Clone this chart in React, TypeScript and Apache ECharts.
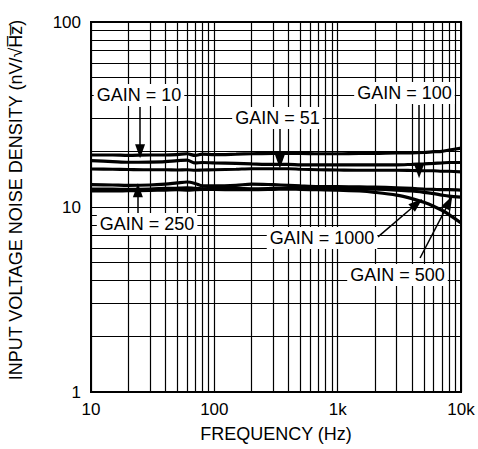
import React, { useEffect, useRef } from 'react';
import * as echarts from 'echarts';

const FREQ = [10, 15, 20, 30, 40, 50, 60, 70, 80, 100, 150, 200, 300, 400, 500, 700, 1000, 1500, 2000, 3000, 4000, 5000, 6000, 7000, 8000, 10000];

const GAIN_10 = [19.1, 19.1, 19.0, 19.1, 19.1, 19.2, 19.4, 19.0, 19.3, 19.2, 19.3, 19.4, 19.5, 19.5, 19.5, 19.4, 19.4, 19.5, 19.5, 19.6, 19.6, 19.7, 19.9, 20.0, 20.3, 20.8];
const GAIN_51 = [17.8, 17.6, 17.45, 17.5, 17.6, 17.8, 17.9, 17.3, 17.4, 17.3, 17.2, 17.1, 17.0, 17.0, 16.9, 16.9, 16.9, 16.9, 16.9, 16.9, 17.0, 17.1, 17.2, 17.3, 17.4, 17.4];
const GAIN_100 = [16.05, 16.0, 15.95, 15.9, 15.9, 15.85, 15.9, 15.8, 15.85, 15.9, 16.0, 16.1, 16.1, 16.1, 16.0, 15.9, 15.85, 15.8, 15.8, 15.8, 15.75, 15.7, 15.7, 15.6, 15.6, 15.5];
const GAIN_250 = [13.2, 13.15, 13.1, 13.15, 13.3, 13.5, 13.65, 13.4, 13.0, 13.0, 13.1, 13.3, 13.2, 13.1, 13.0, 12.9, 12.9, 12.85, 12.8, 12.7, 12.6, 12.5, 12.45, 12.4, 12.4, 12.35];
const GAIN_500 = [12.5, 12.5, 12.45, 12.5, 12.6, 12.65, 12.7, 12.6, 12.55, 12.6, 12.6, 12.55, 12.6, 12.65, 12.6, 12.55, 12.5, 12.55, 12.5, 12.35, 12.2, 12.0, 11.8, 11.6, 11.45, 11.3];
const GAIN_1000 = [12.2, 12.2, 12.25, 12.3, 12.35, 12.4, 12.35, 12.4, 12.45, 12.45, 12.4, 12.4, 12.45, 12.5, 12.45, 12.4, 12.35, 12.2, 12.0, 11.6, 11.1, 10.6, 10.1, 9.6, 9.1, 8.2];

const SERIES = [
  { name: 'GAIN = 10', values: GAIN_10 },
  { name: 'GAIN = 51', values: GAIN_51 },
  { name: 'GAIN = 100', values: GAIN_100 },
  { name: 'GAIN = 250', values: GAIN_250 },
  { name: 'GAIN = 500', values: GAIN_500 },
  { name: 'GAIN = 1000', values: GAIN_1000 },
];

const X_MINOR = [20, 30, 40, 50, 60, 70, 80, 90, 200, 300, 400, 500, 600, 700, 800, 900, 2000, 3000, 4000, 5000, 6000, 7000, 8000, 9000];
const Y_MINOR = [2, 3, 4, 5, 6, 7, 8, 9, 20, 30, 40, 50, 60, 70, 80, 90];

const X_TICK_LABELS: Record<number, string> = { 10: '10', 100: '100', 1000: '1k', 10000: '10k' };

const X_TITLE = 'FREQUENCY (Hz)';
const Y_TITLE = 'INPUT VOLTAGE NOISE DENSITY (nV/\u221AH\u0305z\u0305)';

// annotation labels [freq, value]
const LABELS = [
  { text: 'GAIN = 10', at: [24.5, 40.3] },
  { text: 'GAIN = 51', at: [325, 30.3] },
  { text: 'GAIN = 100', at: [3480, 41.3] },
  { text: 'GAIN = 250', at: [28.5, 8.09] },
  { text: 'GAIN = 1000', at: [747, 6.8] },
  { text: 'GAIN = 500', at: [3055, 4.29] },
];

// arrows: from -> to (tip), curveness
const ARROWS = [
  { from: [25, 34.7], to: [25, 20.0], curve: 0 },
  { from: [340, 27.0], to: [340, 17.6], curve: 0 },
  { from: [4570, 35.6], to: [4570, 15.6], curve: 0 },
  { from: [24, 9.17], to: [24, 12.3], curve: 0 },
  { from: [2124, 6.89], to: [4395, 10.45], curve: -0.35 },
  { from: [4656, 5.3], to: [8000, 10.6], curve: -0.2 },
];

const FONT = 'Liberation Sans, Arial, Helvetica, sans-serif';

export default function App() {
  const ref = useRef<HTMLDivElement>(null);
  useEffect(() => {
    if (!ref.current) return;
    const chart = echarts.init(ref.current, null, { renderer: 'svg' });
    const curveSeries = SERIES.map((s) => ({
      name: s.name,
      type: 'line',
      data: FREQ.map((f, i) => [f, s.values[i]]),
      showSymbol: false,
      symbol: 'none',
      smooth: 0.3,
      lineStyle: { color: '#000', width: 3.2 },
      z: 3,
      silent: true,
    }));
    const option: any = {
      animation: false,
      backgroundColor: '#fff',
      textStyle: { fontFamily: FONT },
      grid: {
        left: 91, right: 17, top: 22, bottom: 57,
        show: true, borderColor: '#000', borderWidth: 2,
        containLabel: false, outerBoundsMode: 'none',
      },
      xAxis: {
        type: 'log', logBase: 10, min: 10, max: 10000,
        name: X_TITLE, nameLocation: 'middle', nameGap: 33,
        nameTextStyle: { fontSize: 18, color: '#000', fontFamily: FONT, verticalAlign: 'top' },
        axisLine: { show: true, lineStyle: { color: '#000', width: 2 } },
        axisTick: { show: false },
        axisLabel: {
          color: '#000', fontSize: 17, fontFamily: FONT, margin: 9,
          formatter: (v: number) => X_TICK_LABELS[Math.round(v)] ?? '',
        },
        splitLine: { show: true, lineStyle: { color: '#000', width: 1.2 } },
      },
      yAxis: {
        type: 'log', logBase: 10, min: 1, max: 100,
        axisLine: { show: true, lineStyle: { color: '#000', width: 2 } },
        axisTick: { show: false },
        axisLabel: { color: '#000', fontSize: 17, fontFamily: FONT, margin: 10 },
        splitLine: { show: true, lineStyle: { color: '#000', width: 1.2 } },
      },
      graphic: [
        {
          type: 'text', x: 16, y: 200, rotation: Math.PI / 2,
          style: {
            text: Y_TITLE, fill: '#000', font: `18px ${FONT}`,
            textAlign: 'center', textVerticalAlign: 'middle',
          },
        },
      ],
      series: [
        {
          type: 'line', data: [], z: 1, silent: true,
          markLine: {
            silent: true, symbol: ['none', 'none'], animation: false,
            label: { show: false },
            lineStyle: { color: '#000', width: 1.2, type: 'solid' },
            emphasis: { disabled: true },
            data: [
              ...X_MINOR.map((x) => ({ xAxis: x })),
              ...Y_MINOR.map((y) => ({ yAxis: y })),
            ],
          },
        },
        ...curveSeries,
        {
          type: 'line', data: [], z: 5, silent: true,
          markLine: {
            silent: true, animation: false,
            symbol: ['none', 'triangle'], symbolSize: [10, 14],
            label: { show: false },
            lineStyle: { color: '#000', width: 1.5, type: 'solid' },
            emphasis: { disabled: true },
            data: ARROWS.map((a) => [
              { coord: a.from, lineStyle: { curveness: a.curve } },
              { coord: a.to },
            ]),
          },
          markPoint: {
            silent: true, animation: false,
            symbol: 'rect', symbolSize: 0,
            label: {
              show: true, position: 'inside', formatter: '{b}',
              color: '#000', fontSize: 18, fontFamily: FONT,
              backgroundColor: '#fff', padding: [2, 3],
            },
            data: LABELS.map((l) => ({ name: l.text, coord: l.at })),
          },
        },
      ],
    };
    chart.setOption(option);
    return () => chart.dispose();
  }, []);
  return <div ref={ref} style={{ position: 'fixed', left: 0, top: 0, width: 478, height: 449 }} />;
}
